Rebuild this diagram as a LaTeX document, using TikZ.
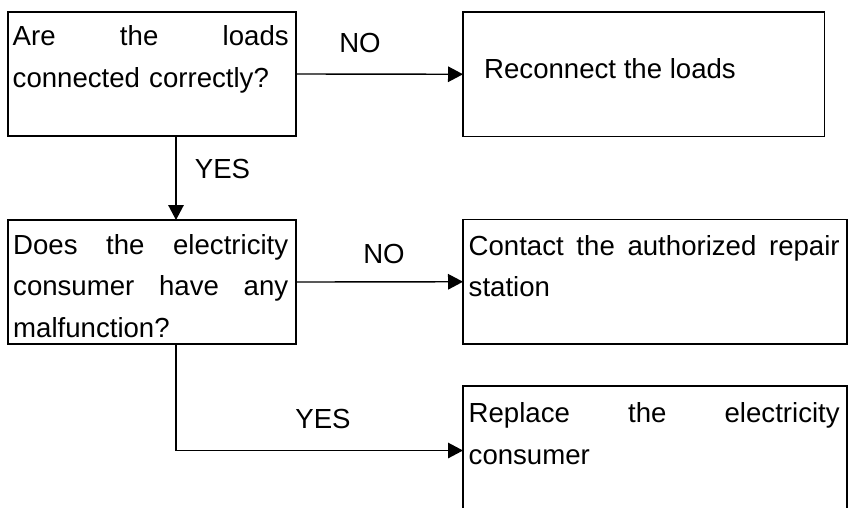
\documentclass[tikz,border=0pt]{standalone}
\usepackage{fontspec}
\setmainfont{Liberation Sans}
\usetikzlibrary{arrows.meta}
\newcommand{\jline}[1]{\leavevmode\hbox to \linewidth{#1}}
\begin{document}
\begin{tikzpicture}[x=1pt,y=-1pt,
  box/.style={draw, line width=1.4pt, rectangle, inner sep=0pt, outer sep=0pt, anchor=north west},
  txt/.style={anchor=base west, inner sep=0pt, align=left, font=\fontsize{27.6}{41.5}\selectfont},
  lbl/.style={anchor=base, inner sep=0pt, font=\fontsize{27.6}{33}\selectfont},
  conn/.style={line width=1.4pt, -{Triangle[length=15pt,width=15.5pt]}}]
\useasboundingbox (0,0) rectangle (848,507);
\clip (0,0) rectangle (848,507);
\fill[white] (0,0) rectangle (848,507);
% boxes
\node[box, minimum width=288, minimum height=124] (b1) at (8,12) {};
\node[box, minimum width=361.5, minimum height=124.5] (b2) at (463,12) {};
\node[box, minimum width=288, minimum height=124] (b3) at (8,220) {};
\node[box, minimum width=384, minimum height=124.5] (b4) at (463,219.5) {};
\node[box, minimum width=384, minimum height=129] (b5) at (463,386) {};
% texts
\node[txt, text width=276] (t1) at (12.5,45.7) {\jline{Are\hfill the\hfill loads}\\connected correctly?};
\node[txt] (t2) at (484,78.3) {Reconnect the loads};
\node[txt, text width=275] (t3) at (13,254) {\jline{Does\hfill the\hfill electricity}\\\jline{consumer\hfill have\hfill any}\\malfunction?};
\node[txt, text width=371] (t4) at (468.5,255) {\jline{Contact\hfill the\hfill authorized\hfill repair}\\station};
\node[txt, text width=371] (t5) at (468.5,422.7) {\jline{Replace\hfill the\hfill electricity}\\consumer};
% connectors
\coordinate (v) at (176,0);
\draw[conn] (b1.east) -- (b2.west);
\draw[conn] (b1.south -| v) -- (b3.north -| v);
\draw[conn] (b3.east) -- (b4.west);
\draw[conn] (b3.south -| v) |- (b5.west);
% labels
\node[lbl] (n1) at (360,52.3) {NO};
\node[lbl] (y1) at (222.5,178) {YES};
\node[lbl] (n2) at (384,263) {NO};
\node[lbl] (y2) at (323,428) {YES};
\end{tikzpicture}
\end{document}
